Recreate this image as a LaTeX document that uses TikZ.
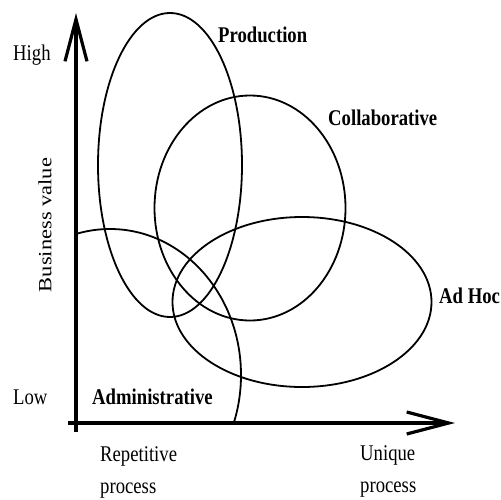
\documentclass[tikz,border=0pt]{standalone}
\usepackage{fontspec}
\setmainfont{Liberation Serif}
\usetikzlibrary{arrows.meta}
\begin{document}
\begin{tikzpicture}[x=1pt,y=-1pt,
  axis/.style={line width=3.2pt, -{Straight Barb[length=42pt,width=22pt]}},
  region/.style={line width=1.8pt},
  lbl/.style={anchor=base west, inner sep=0pt, font=\fontsize{18.7}{27}\selectfont},
  blbl/.style={lbl, font=\fontsize{18.7}{27}\selectfont\bfseries},
  ]
\useasboundingbox (0,0) rectangle (501,499);
% regions
\draw[region] (170,165) ellipse [x radius=72, y radius=152];
\draw[region] (250,208) ellipse [x radius=95.5, y radius=112.5];
\draw[region] (302,302) ellipse [x radius=129.5, y radius=85];
\begin{scope}
  \clip (76,0) rectangle (501,423);
  \draw[region] (110,375) ellipse [x radius=131, y radius=146];
\end{scope}
% axes
\coordinate (ybot) at (76,432);
\coordinate (ytop) at (76,13);
\coordinate (xleft) at (68,423);
\coordinate (xright) at (455,423);
\draw[axis] (ybot) -- (ytop);
\draw[axis] (xleft) -- (xright);
% labels
\node[lbl] (high) at (13,60) {\scalebox{1}[1.2]{High}};
\node[lbl] (low) at (13,404) {\scalebox{1}[1.2]{Low}};
\node[inner sep=0pt, font=\fontsize{18.7}{27}\selectfont] (bv) at (45,225) {\rotatebox{90}{\scalebox{1.2}[1]{Business value}}};
\node[blbl] (prod) at (218,42) {\scalebox{1}[1.2]{Production}};
\node[blbl] (collab) at (328,125) {\scalebox{1}[1.2]{Collaborative}};
\node[blbl] (adhoc) at (439,303) {\scalebox{1}[1.2]{Ad Hoc}};
\node[blbl] (admin) at (92,404) {\scalebox{1}[1.2]{Administrative}};
\node[lbl] (rep) at (100,461) {\scalebox{1}[1.2]{\begin{tabular}[t]{@{}l@{}}Repetitive\\process\end{tabular}}};
\node[lbl] (uniq) at (360,460) {\scalebox{1}[1.2]{\begin{tabular}[t]{@{}l@{}}Unique\\process\end{tabular}}};
\end{tikzpicture}
\end{document}
